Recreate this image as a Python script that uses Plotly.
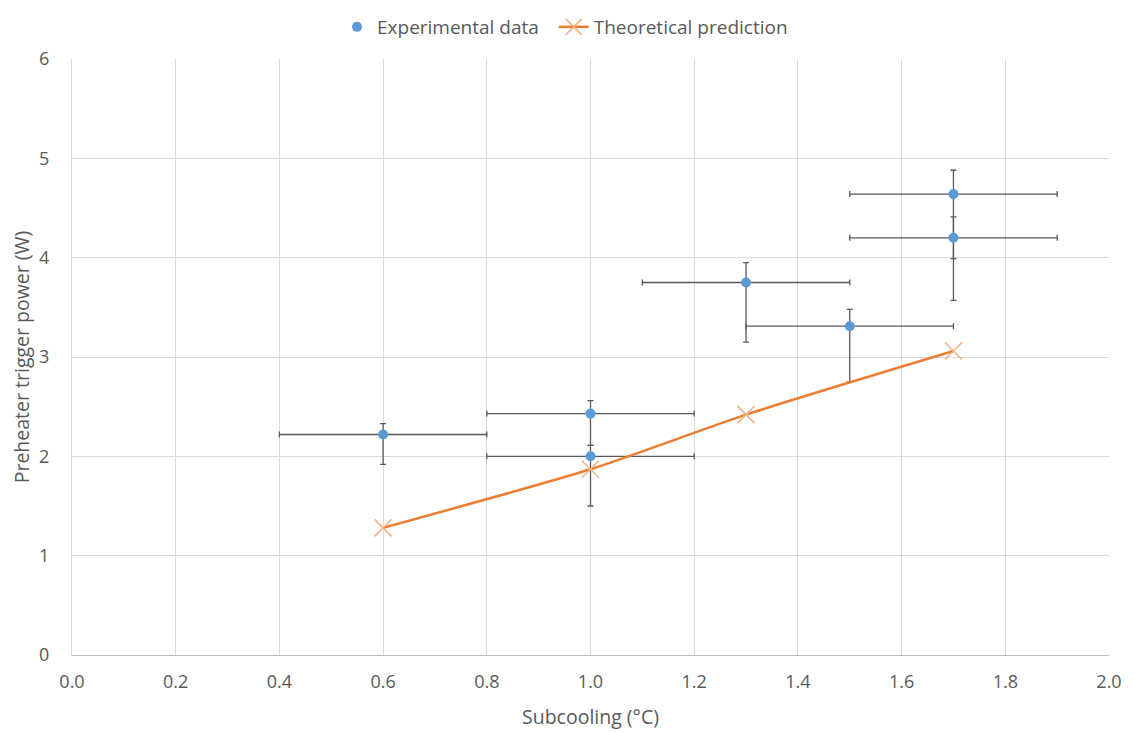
import plotly.graph_objects as go

# Experimental data
exp_x = [0.6, 1.0, 1.0, 1.3, 1.5, 1.7, 1.7]
exp_y = [2.22, 2.43, 2.00, 3.75, 3.31, 4.64, 4.20]
exp_x_err = [0.2, 0.2, 0.2, 0.2, 0.2, 0.2, 0.2]
exp_y_plus = [0.11, 0.13, 0.11, 0.20, 0.17, 0.24, 0.21]
exp_y_minus = [0.30, 0.32, 0.50, 0.60, 0.56, 0.65, 0.63]

# Theoretical prediction
theo_x = [0.6, 1.0, 1.3, 1.7]
theo_y = [1.28, 1.87, 2.42, 3.06]

x_ticks = [0.0, 0.2, 0.4, 0.6, 0.8, 1.0, 1.2, 1.4, 1.6, 1.8, 2.0]
y_ticks = [0, 1, 2, 3, 4, 5, 6]

err_color = "#595959"

fig = go.Figure()

fig.add_trace(go.Scatter(
    x=exp_x, y=exp_y, mode="markers", name="Experimental data  ",
    marker=dict(color="#5B9BD5", size=10),
    error_x=dict(type="data", array=exp_x_err, color=err_color, thickness=1.3, width=3),
    error_y=dict(type="data", symmetric=False, array=exp_y_plus, arrayminus=exp_y_minus,
                 color=err_color, thickness=1.3, width=3),
))

fig.add_trace(go.Scatter(
    x=theo_x, y=theo_y, mode="lines+markers", name="Theoretical prediction",
    line=dict(color="#ED7D31", width=2.5, shape="spline", smoothing=0.6),
    marker=dict(symbol="x-thin", size=17, color="rgba(244,177,131,0.9)",
                line=dict(color="#F4B183", width=1.5)),
))

font_family = "Open Sans, Noto Sans, sans-serif"

fig.update_layout(
    width=1134, height=733,
    paper_bgcolor="white", plot_bgcolor="white",
    margin=dict(l=64, r=33, t=51, b=86, autoexpand=False),
    font=dict(family=font_family, color="#595959", size=18),
    legend=dict(orientation="h", x=(567 - 10) / 1134, xanchor="center", xref="container",
                y=1, yanchor="top", yref="container",
                font=dict(size=19, color="#595959"), bgcolor="rgba(0,0,0,0)"),
    showlegend=True,
)

fig.update_xaxes(
    range=[0, 2.0], tickvals=x_ticks, ticktext=[f"{v:.1f}" for v in x_ticks],
    showgrid=True, gridcolor="#D9D9D9", gridwidth=1,
    showline=True, linecolor="#BFBFBF", linewidth=1,
    zeroline=False, ticks="", ticklabelstandoff=10,
    tickfont=dict(size=18, color="#595959"),
    title=dict(text="Subcooling (°C)", font=dict(size=19.5, color="#595959"), standoff=18),
)
fig.update_yaxes(
    range=[0, 6], tickvals=y_ticks,
    showgrid=True, gridcolor="#D9D9D9", gridwidth=1,
    showline=True, linecolor="#D9D9D9", linewidth=1,
    zeroline=False, ticks="", ticklabelstandoff=18,
    tickfont=dict(size=18, color="#595959"),
    title=dict(text="Preheater trigger power (W)", font=dict(size=19.5, color="#595959"), standoff=12),
)

fig.write_html("out.html")
